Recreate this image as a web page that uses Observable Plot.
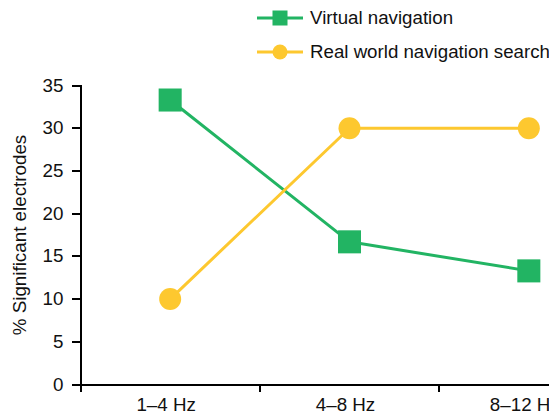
<!DOCTYPE html>
<html>
<head>
<meta charset="utf-8">
<script src="https://cdn.jsdelivr.net/npm/d3@7"></script>
<script src="https://cdn.jsdelivr.net/npm/@observablehq/plot@0.6"></script>
<style>
  html, body { margin: 0; padding: 0; background: #fff; }
  body { width: 549px; height: 416px; overflow: hidden; position: relative; font-family: "Liberation Sans", Arial, Helvetica, sans-serif; }
  #legend { position: absolute; left: 257px; top: 0; font-size: 18.7px; color: #111; }
  .row { position: absolute; left: 0; height: 22px; display: flex; align-items: center; white-space: nowrap; }
  .row svg { display: block; margin-right: 7px; }
  #chart { position: absolute; left: 0; top: 0; }
</style>
</head>
<body>
<div id="chart"></div>
<div id="legend"></div>
<script>
const categories = ["1–4 Hz", "4–8 Hz", "8–12 Hz"];
const virtualNav = [33.3, 16.7, 13.3];
const realWorld = [10, 30, 30];
const yTicks = [0, 5, 10, 15, 20, 25, 30, 35];
const seriesNames = ["Virtual navigation", "Real world navigation search"];
const green = "#22b463";
const yellow = "#fdc82f";

const vData = categories.map((c, i) => ({i, v: virtualNav[i]}));
const rData = categories.map((c, i) => ({i, v: realWorld[i]}));
const bounds = categories.map((c, i) => i - 0.5);
const axisStyle = {stroke: "#000", strokeWidth: 2, shapeRendering: "crispEdges"};

const plot = Plot.plot({
  width: 549,
  height: 416,
  marginLeft: 80,
  marginTop: 85,
  marginBottom: 32,
  marginRight: 0,
  style: {fontFamily: '"Liberation Sans", Arial, Helvetica, sans-serif', fontSize: "18.8px", color: "#111", background: "white"},
  x: {type: "linear", domain: [-0.5, categories.length - 0.5], range: [80, 618]},
  y: {domain: [0, 35], range: [384, 85]},
  marks: [
    Plot.axisY({ticks: yTicks, tickSize: 0, tickPadding: 17, fontSize: 18.8,
      label: "% Significant electrodes", labelAnchor: "center", labelOffset: 68, labelArrow: false}),
    Plot.axisX({ticks: categories.map((c, i) => i), tickSize: 0, tickPadding: 13, fontSize: 18.8, dx: -4,
      tickFormat: i => categories[i], label: null}),
    // y tick marks (8px outward)
    Plot.ruleY(yTicks, {y: d => d, x1: -0.5, x2: -0.5, insetLeft: -8, ...axisStyle}),
    // x band-boundary tick marks (8px downward)
    Plot.ruleX(bounds, {x: d => d, y1: 0, y2: 0, insetBottom: -8, ...axisStyle}),
    Plot.ruleX([-0.5], {y1: 0, y2: 35, ...axisStyle}),
    Plot.ruleY([0], axisStyle),
    Plot.line(vData, {x: "i", y: "v", stroke: green, strokeWidth: 3}),
    Plot.line(rData, {x: "i", y: "v", stroke: yellow, strokeWidth: 3}),
    Plot.dot(vData, {x: "i", y: "v", symbol: "square", r: 13, fill: green, stroke: "none"}),
    Plot.dot(rData, {x: "i", y: "v", symbol: "circle", r: 11, fill: yellow, stroke: "none"})
  ]
});
document.getElementById("chart").appendChild(plot);

// Legend
const legend = document.getElementById("legend");
const items = [
  {name: seriesNames[0], color: green, shape: "square", top: 7},
  {name: seriesNames[1], color: yellow, shape: "circle", top: 41}
];
for (const it of items) {
  const row = document.createElement("div");
  row.className = "row";
  row.style.top = it.top + "px";
  const ns = "http://www.w3.org/2000/svg";
  const s = document.createElementNS(ns, "svg");
  s.setAttribute("width", 46); s.setAttribute("height", 22);
  const ln = document.createElementNS(ns, "line");
  ln.setAttribute("x1", 0); ln.setAttribute("x2", 46); ln.setAttribute("y1", 11); ln.setAttribute("y2", 11);
  ln.setAttribute("stroke", it.color); ln.setAttribute("stroke-width", 3);
  s.appendChild(ln);
  let m;
  if (it.shape === "square") {
    m = document.createElementNS(ns, "rect");
    m.setAttribute("x", 15.5); m.setAttribute("y", 3.5); m.setAttribute("width", 15); m.setAttribute("height", 15);
  } else {
    m = document.createElementNS(ns, "circle");
    m.setAttribute("cx", 23); m.setAttribute("cy", 11); m.setAttribute("r", 7.5);
  }
  m.setAttribute("fill", it.color);
  s.appendChild(m);
  row.appendChild(s);
  const t = document.createElement("span");
  t.textContent = it.name;
  row.appendChild(t);
  legend.appendChild(row);
}
</script>
</body>
</html>
